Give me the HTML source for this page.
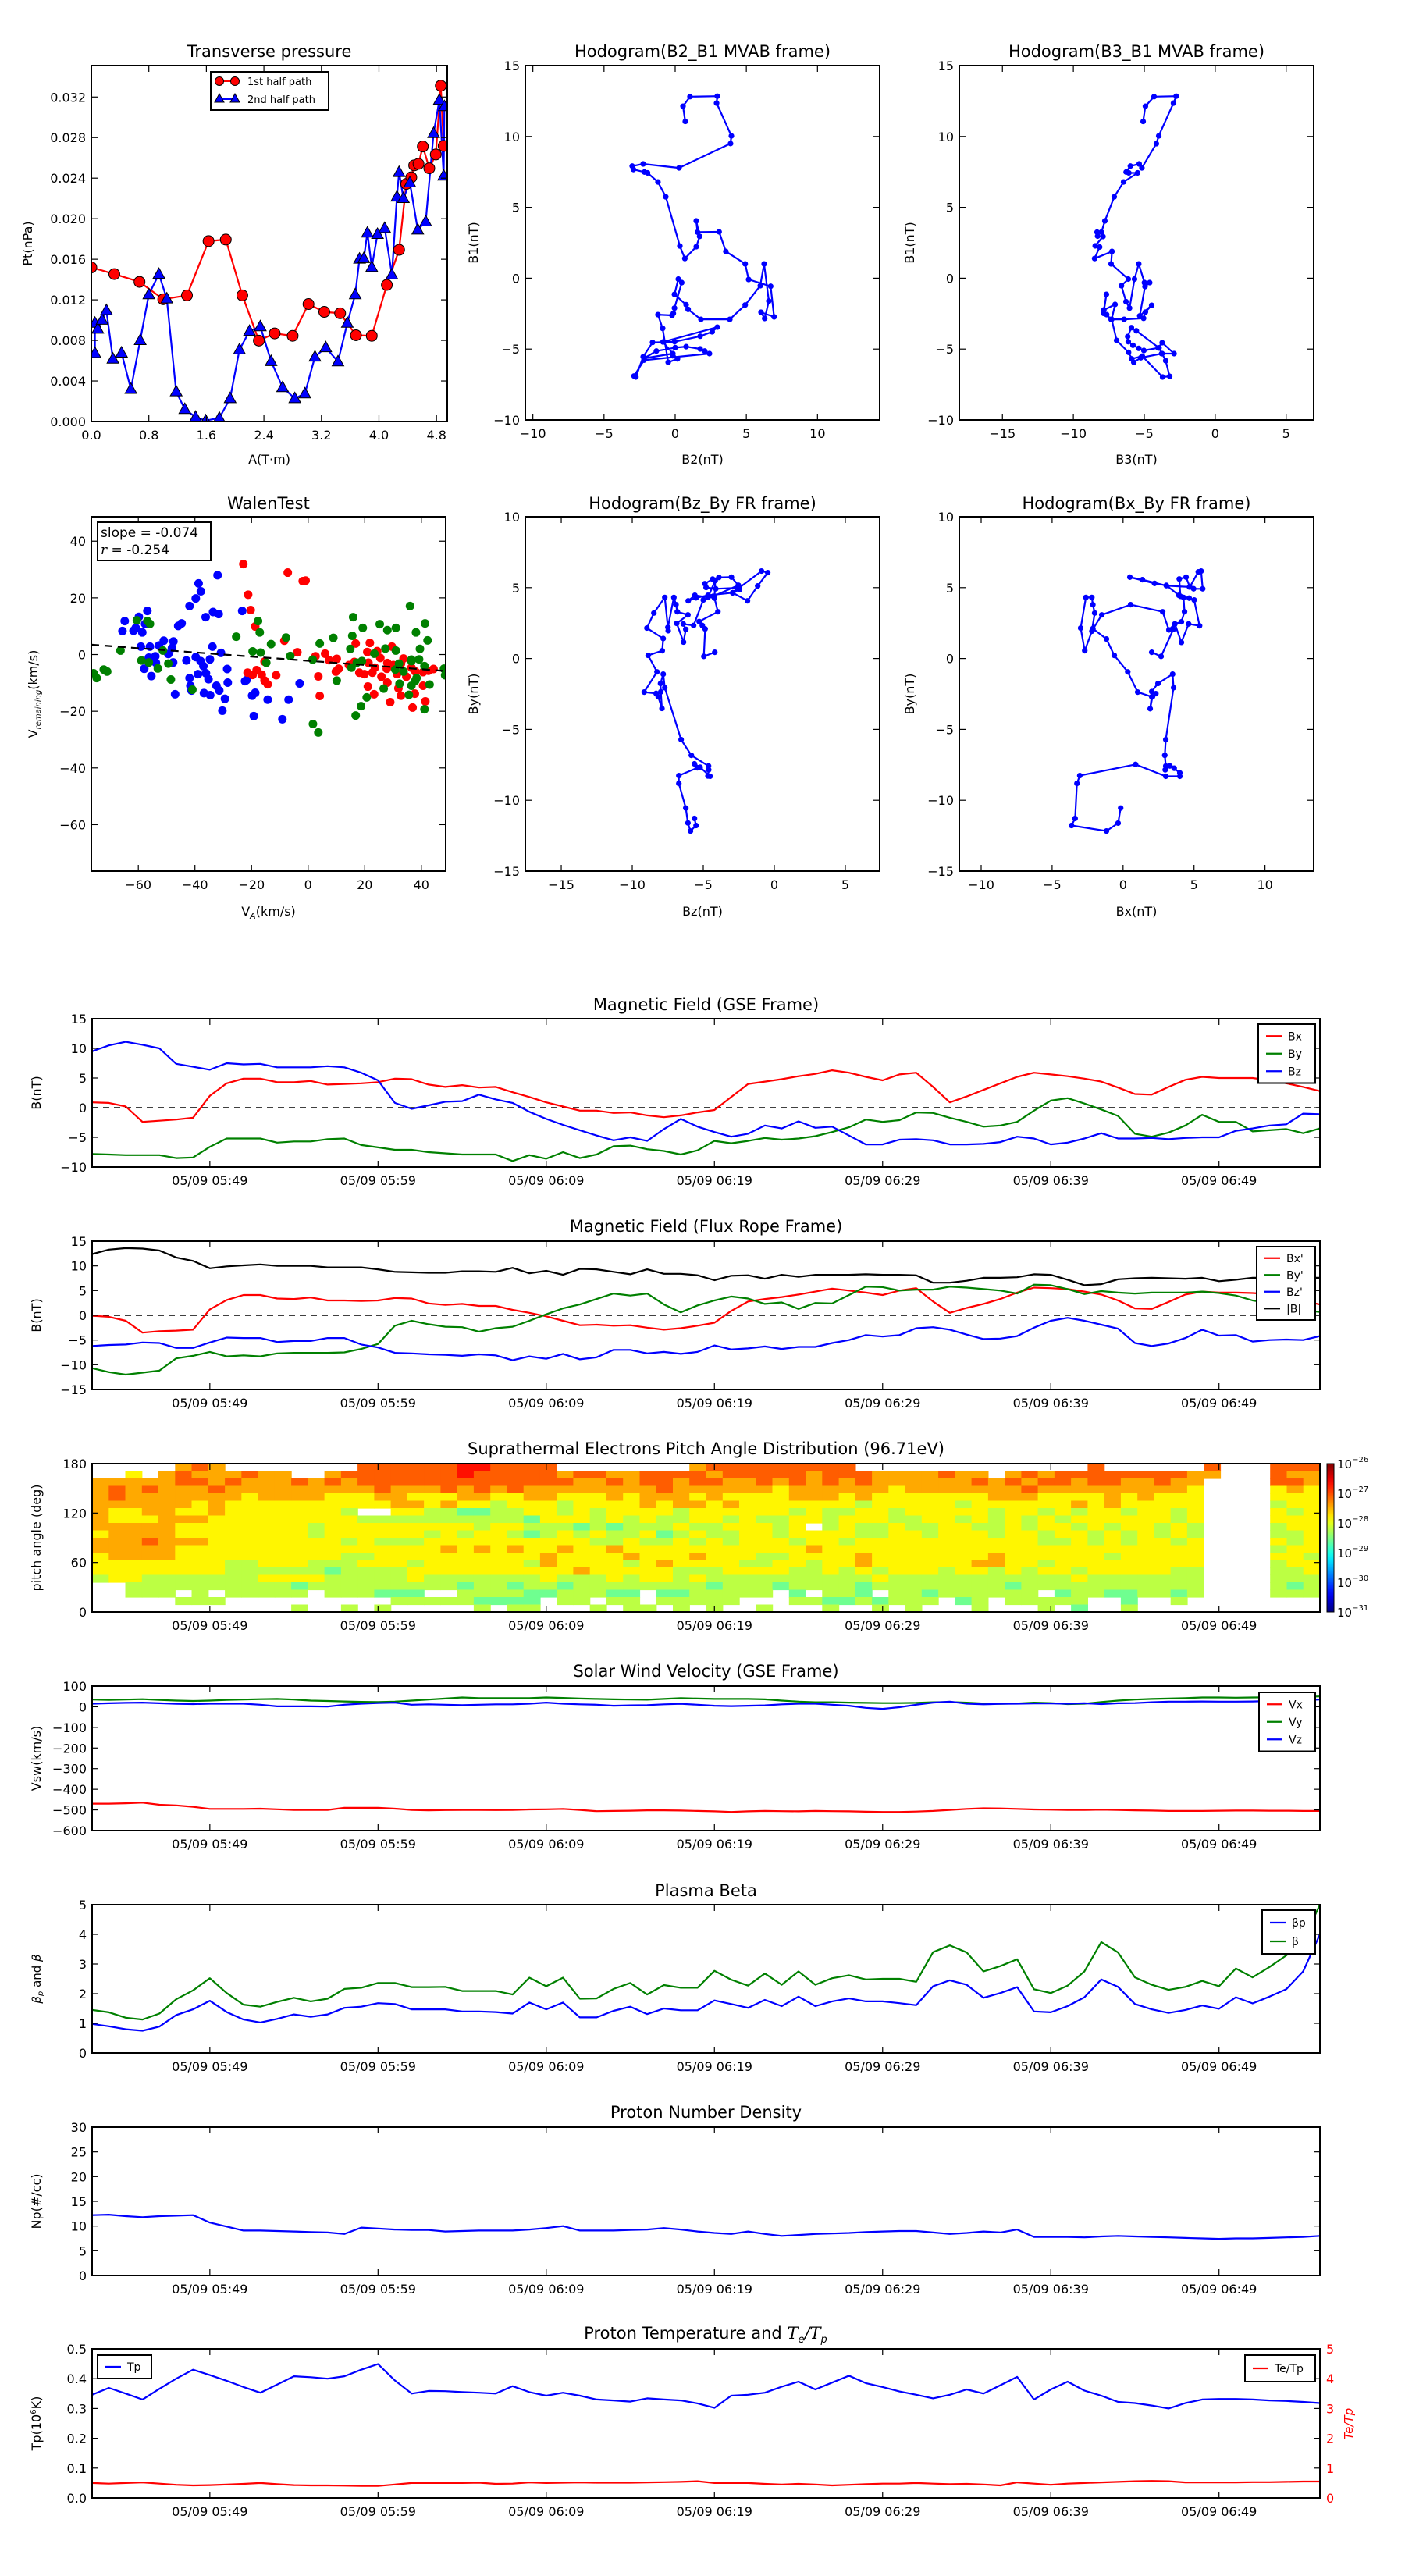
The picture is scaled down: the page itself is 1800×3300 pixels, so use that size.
<!DOCTYPE html>
<html><head><meta charset="utf-8"><title>Flux rope analysis</title>
<style>
html,body{margin:0;padding:0;background:#fff;}
svg{display:block;}
text{font-family:"DejaVu Sans","Liberation Sans",sans-serif;}
</style></head>
<body>
<svg id="fig" xmlns="http://www.w3.org/2000/svg" width="1800" height="3300" viewBox="0 0 1800 3300">
<rect x="0" y="0" width="1800" height="3300" fill="#fff"/>
</svg>
<script>
// ---------------- DATA ----------------
const timeTickPos = [7,17,27,37,47,57,67];
const timeTickLabels = ["05/09 05:49","05/09 05:59","05/09 06:09","05/09 06:19","05/09 06:29","05/09 06:39","05/09 06:49"];

// Transverse pressure
const ptA1 = [0,0.32,0.67,1.0,1.33,1.63,1.87,2.10,2.33,2.55,2.80,3.02,3.24,3.46,3.68,3.90,4.11,4.28,4.38,4.45,4.49,4.55,4.61,4.70,4.79,4.86,4.90];
const ptP1 = [0.0152,0.01454,0.01377,0.01206,0.01244,0.01779,0.01794,0.01244,0.00798,0.00869,0.00845,0.01158,0.01081,0.01067,0.00851,0.00845,0.01347,0.01693,0.02343,0.02408,0.02526,0.02541,0.02712,0.02497,0.02633,0.03312,0.02718];
const ptA2 = [0.05,0.05,0.09,0.15,0.21,0.30,0.42,0.55,0.68,0.80,0.94,1.05,1.18,1.30,1.45,1.59,1.78,1.93,2.06,2.20,2.35,2.50,2.66,2.83,2.97,3.11,3.26,3.43,3.56,3.67,3.73,3.79,3.84,3.90,3.98,4.08,4.18,4.25,4.28,4.34,4.43,4.54,4.65,4.76,4.84,4.90,4.91];
const ptP2 = [0.00674,0.00972,0.00913,0.01002,0.01096,0.00618,0.00677,0.00319,0.00801,0.01253,0.01454,0.01211,0.00295,0.00121,0.00044,0.00009,0.00035,0.00228,0.00709,0.00892,0.00937,0.00594,0.00337,0.00228,0.00275,0.00638,0.0073,0.00591,0.00972,0.01253,0.01604,0.0161,0.01861,0.01522,0.01847,0.01906,0.01448,0.02216,0.02458,0.02201,0.02355,0.01891,0.01971,0.02842,0.0317,0.02423,0.03108];

// MVAB hodograms
const mvB2 = [0.71,0.55,1.04,2.96,2.91,3.95,3.89,0.27,-2.25,-3.02,-2.93,-2.16,-1.94,-1.21,-0.66,0.33,0.68,1.48,1.72,1.48,1.57,3.09,3.56,4.92,5.16,6.71,6.95,6.03,6.29,6.58,6.25,5.98,4.92,3.84,1.81,0.91,0.77,-0.05,0.22,0.46,-0.05,-0.13,-0.22,-1.21,-0.88,-0.49,0.16,-0.86,2.96,2.60,1.76,-0.04,-1.59,-2.25,-2.76,-2.89,-2.19,2.41,2.08,1.76,0.77,0,-1.32,-2.18,-0.16,-0.18];
const mvB1 = [11.06,12.13,12.81,12.84,12.35,10.04,9.50,7.78,8.06,7.91,7.67,7.49,7.43,6.79,5.74,2.27,1.39,2.22,2.95,4.04,3.25,3.27,1.89,1.01,-0.09,-0.57,-2.73,-2.40,-2.84,-1.61,1.01,-0.53,-1.89,-2.90,-2.90,-2.20,-1.87,-1.14,-0.06,-0.31,-2.11,-2.48,-2.62,-2.57,-3.54,-5.93,-5.69,-4.50,-3.45,-3.78,-4.09,-4.48,-4.53,-5.54,-6.97,-6.90,-5.78,-5.32,-5.14,-4.99,-4.83,-4.90,-5.14,-5.65,-5.32,-5.47];
const mvB3x = [-5.08,-4.92,-4.31,-2.75,-2.94,-3.98,-4.15,-5.17,-5.36,-5.98,-6.28,-6.09,-5.47,-6.46,-7.12,-7.78,-8.02,-8.33,-8.29,-7.91,-8.46,-8.15,-8.50,-7.28,-7.34,-6.13,-6.61,-6.29,-6.04,-5.69,-5.39,-4.99,-4.62,-4.95,-5.32,-4.48,-4.92,-5.05,-6.42,-7.34,-7.65,-7.87,-7.67,-7.85,-7.06,-7.30,-6.95,-6.11,-5.74,-5.25,-3.78,-2.90,-3.74,-4.02,-5.03,-5.39,-5.80,-6.13,-6.17,-5.91,-5.56,-3.96,-3.74,-3.49,-3.21,-3.71,-5.14,-5.89];
const mvB1y = [11.06,12.13,12.81,12.84,12.35,10.04,9.49,7.78,8.06,7.91,7.49,7.43,7.43,6.79,5.74,4.04,3.25,3.25,2.97,2.94,2.28,2.2,1.39,1.89,1.01,-0.06,-0.53,-1.65,-2.11,-0.06,1.01,-0.31,-0.31,-0.59,-2.66,-1.91,-2.39,-2.83,-2.90,-2.90,-2.57,-2.48,-1.14,-2.24,-1.85,-2.90,-4.39,-5.23,-5.93,-5.61,-5.32,-5.32,-4.55,-4.92,-5.10,-4.95,-4.73,-4.48,-4.11,-3.49,-3.71,-4.92,-5.32,-5.82,-6.92,-6.97,-5.50,-5.69];

// FR hodograms
const frBz = [-4.19,-4.96,-4.87,-5.07,-5.29,-3.97,-4.21,-4.16,-4.67,-5.59,-6.06,-5.51,-4.67,-2.93,-2.53,-2.45,-2.93,-1.89,-1.17,-0.46,-0.90,-2.47,-4.12,-4.80,-4.89,-4.34,-3.90,-3.02,-2.53,-4.30,-5.00,-5.68,-6.41,-6.23,-6.39,-6.87,-6.08,-6.83,-6.92,-7.07,-7.49,-7.47,-7.71,-8.48,-8.97,-7.82,-7.89,-8.88,-8.26,-9.16,-8.32,-8.17,-7.91,-7.99,-8.01,-7.82,-7.71,-6.56,-5.84,-4.63,-4.62,-4.67,-4.52,-5.22,-5.62,-5.42,-6.72,-6.72,-6.23,-6.08,-5.90,-5.51,-5.62];
const frByZ = [0.44,0.15,2.09,2.33,2.61,3.30,4.26,5.50,4.31,4.46,4.07,4.28,4.46,4.64,5.05,4.86,4.64,4.07,5.12,6.06,6.17,4.99,4.92,5.01,5.28,5.60,5.72,5.74,5.17,4.39,4.13,2.33,2.44,2.06,1.16,2.48,3.08,3.30,3.80,4.31,2.20,1.96,4.31,3.21,2.15,1.41,0.55,0.22,-0.94,-2.37,-2.46,-2.70,-3.52,-2.35,-1.76,-1.10,-2.06,-5.72,-6.83,-7.58,-7.85,-8.29,-8.31,-7.67,-7.43,-7.71,-8.26,-8.81,-10.55,-11.60,-12.17,-11.78,-11.28];
const frBx = [2.02,2.68,3.54,3.65,4.11,4.33,4.26,4.04,3.96,4.44,4.70,5.30,5.50,5.61,4.97,4.68,3.05,1.36,0.48,2.22,3.05,3.93,4.66,5.01,5.39,4.62,4.11,3.65,3.23,2.79,0.53,-1.50,-2.13,-2.20,-2.00,-2.13,-2.20,-2.62,-2.99,-2.70,-2.13,-1.17,-0.62,0.33,1.03,2.02,1.91,2.07,2.31,2.02,2.46,3.49,3.56,3.01,2.94,3.01,2.97,3.30,3.60,4.00,4.00,3.01,0.88,-3.05,-3.25,-3.38,-3.63,-1.17,-0.35,-0.17];
const frByX = [0.44,0.15,2.06,2.44,2.59,3.30,4.31,4.39,5.61,5.74,5.05,6.11,6.17,4.92,4.92,5.05,5.14,5.56,5.74,5.30,5.16,4.46,4.26,4.13,2.31,2.44,1.14,2.44,2.02,3.30,3.80,3.08,2.06,1.93,3.21,3.80,4.31,4.31,2.15,0.55,2.11,1.38,0.22,-0.94,-2.37,-2.70,-3.54,-2.70,-2.48,-2.33,-1.76,-1.10,-2.06,-5.72,-6.83,-7.58,-7.85,-7.58,-7.74,-8.07,-8.31,-8.31,-7.47,-8.26,-8.81,-11.28,-11.78,-12.17,-11.61,-10.55];

// Walen test
const walenBlueX = [-32,-38.7,-37.9,-39.7,-41.9,-33.6,-31.6,-36.2,-23.3,-56.8,-59.8,-64.8,-65.6,-61.7,-60.9,-58.6,-57.6,-45.9,-44.7,-59.1,-55.9,-52.7,-51,-47.6,-48.1,-49.4,-56.3,-54,-53.8,-47.7,-57.9,-55.4,-43,-39.7,-38,-34.7,-33.8,-30.8,-37,-38.9,-36.1,-35.2,-41.9,-41.6,-41.2,-47,-36.8,-34.6,-32.4,-31.4,-28.6,-28.4,-29.4,-30.3,-21.8,-22.3,-19.8,-18.7,-14.3,-6.9,-3,-19.2,-9.1];
const walenBlueY = [28,25.1,22.3,19.8,17.1,15,14.3,13.2,15.4,15.4,13.3,11.8,8.3,8.4,9.4,7.8,10.8,10.1,11,2.8,2.8,3.2,4.9,4.6,2.3,0.2,-1.1,-0.6,-2.9,-2.8,-5,-7.6,-2.1,-0.9,-2.3,-1.7,2.8,0.6,-4.1,-6.9,-6.6,-8.7,-8.3,-11,-12.7,-14,-13.6,-14.3,-11,-12.7,-5.1,-9.9,-15.6,-19.8,-9,-9.4,-14.5,-13.5,-15.9,-15.9,-10.2,-21.7,-22.8];
const walenRedX = [-22.9,-7.2,-1.9,-0.9,-21.2,-20.3,-18.7,-8.4,-3.8,2.6,6,7.4,10.1,10.8,9.8,3.6,4.1,-15.4,-21.4,-19.6,-18.2,-16.4,-15.4,-14.3,-11.3,16.8,21.8,20.9,24.4,25.5,29.6,28,33.7,14.4,16.3,18.1,19.9,21.3,23.6,22.7,25.9,27.8,30.1,31.4,32.8,34.7,36.5,37.9,40.6,42.5,44.3,21.1,23.3,28,29,31.9,32.8,37.7,40.6,36.9,41.4];
const walenRedY = [31.9,28.9,25.9,26.1,21.1,15.7,9.9,4.9,0.8,-0.6,0.3,-2,-1.5,-5,-6,-7.7,-14.6,-2.5,-6.4,-7.2,-5.5,-7.1,-9.2,-10.5,-7.3,3.9,4.1,0.9,1.2,-1.2,2.8,-3,-1.4,-3.7,-2.6,-6.4,-6.9,-2.9,-4.6,-6.4,-7.8,-5,-3.7,-6.9,-3.2,-7.8,-4.6,-6,-6.2,-5.7,-5.1,-11.3,-14,-9.9,-16.8,-11.9,-14.5,-13.8,-11,-18.7,-16.5];
const walenGreenX = [-75.8,-74.7,-72.2,-71,-66.3,-60.5,-56.8,-55.9,-58.9,-56.3,-53.1,-48.5,-49.4,-51.3,-25.4,-17.7,-17.1,-13.1,-19.6,-16.8,-14.8,-7.8,-6.3,1.6,4.1,8.9,15.9,19.3,25.3,28,31,36,38.1,41.3,42.2,39.5,15.6,14.9,27.3,31,23.4,17.2,19,15.3,10.1,20.7,18.7,16.8,1.7,3.6,26.7,32.3,35.6,36.5,38.3,39.2,36.5,41.1,42.9,41.1,48,48.4,30.8,32.1,33.7,36.5,37.9,-40.9];
const walenGreenY = [-6.6,-8.3,-5.3,-6,1.4,12.1,11.8,10.8,-2.1,-2.8,-4.9,-8.8,-3.2,1.4,6.3,11.8,7.8,3.7,1.1,0.7,-2.9,6,-0.5,-1.8,3.9,5.9,13.2,9.4,10.7,8.6,9.4,17.1,7.8,11,5,2,6.6,2,2.1,1.4,0.3,-2.9,-2.3,-4.6,-9.2,-15.1,-18.2,-21.5,-24.5,-27.5,-12,-10.3,-14.2,-11,-8.3,-1.7,-1.8,-4.1,-10.6,-19.3,-5,-7.3,-5.3,-3.2,-6,-2.3,-9.2,-12.4];
const walenSlope = -0.074;
const walenIntercept = -2.2;

// GSE magnetic field
const gseBx = [0.9,0.8,0.2,-2.4,-2.2,-2,-1.7,2,4.1,4.9,4.9,4.3,4.3,4.5,3.9,4,4.1,4.3,4.9,4.8,3.9,3.5,3.8,3.4,3.5,2.6,1.8,0.9,0.2,-0.5,-0.5,-0.9,-0.8,-1.3,-1.6,-1.3,-0.8,-0.4,1.8,4,4.4,4.8,5.3,5.7,6.3,5.9,5.2,4.6,5.6,5.9,3.5,0.9,1.9,3,4.1,5.2,5.9,5.6,5.3,4.9,4.4,3.4,2.3,2.2,3.5,4.7,5.2,5,5,5,4.6,4.1,3.5,2.8];
const gseBy = [-7.8,-7.9,-8,-8,-8,-8.5,-8.4,-6.6,-5.2,-5.2,-5.2,-5.9,-5.7,-5.7,-5.3,-5.2,-6.3,-6.7,-7.1,-7.1,-7.5,-7.7,-7.9,-7.9,-7.9,-9,-8,-8.6,-7.5,-8.5,-7.9,-6.5,-6.4,-7,-7.3,-7.9,-7.2,-5.6,-6,-5.6,-5.1,-5.4,-5.2,-4.8,-4.1,-3.3,-2,-2.4,-2.1,-0.8,-0.9,-1.7,-2.4,-3.2,-3,-2.4,-0.5,1.2,1.6,0.7,-0.3,-1.4,-4.4,-4.9,-4.2,-3,-1.2,-2.4,-2.4,-4,-3.8,-3.6,-4.3,-3.5];
const gseBz = [9.5,10.5,11.1,10.6,10,7.4,6.9,6.4,7.5,7.3,7.4,6.8,6.8,6.8,7,6.8,5.9,4.6,0.8,-0.2,0.4,1,1.1,2.2,1.4,0.8,-0.7,-1.9,-2.9,-3.8,-4.7,-5.5,-5,-5.6,-3.6,-1.9,-3.2,-4.1,-4.9,-4.4,-3,-3.5,-2.3,-3.4,-3.2,-4.7,-6.2,-6.2,-5.4,-5.3,-5.5,-6.2,-6.2,-6.1,-5.8,-4.9,-5.2,-6.2,-5.9,-5.2,-4.3,-5.2,-5.2,-5.1,-5.3,-5.1,-5,-5,-3.9,-3.5,-3,-2.8,-1,-1.1];

// Flux rope frame field
const frameBx = [-0.1,-0.3,-1.1,-3.5,-3.2,-3.1,-2.9,1.2,3.1,4.1,4.1,3.4,3.3,3.6,3,3,2.9,3,3.5,3.4,2.4,2.1,2.3,1.9,1.9,1.1,0.5,-0.2,-1.1,-2,-1.9,-2.1,-2,-2.5,-2.9,-2.6,-2.1,-1.5,0.9,2.8,3.3,3.7,4.2,4.8,5.4,5,4.6,4.1,5,5.5,2.8,0.5,1.5,2.3,3.3,4.6,5.6,5.5,5.3,4.8,4.2,3,1.4,1.3,2.7,4.2,4.8,4.6,4.6,4.5,4.3,3.8,2.9,2.2];
const frameBy = [-10.7,-11.5,-12,-11.6,-11.2,-8.7,-8.2,-7.4,-8.3,-8.1,-8.3,-7.7,-7.6,-7.6,-7.6,-7.5,-6.8,-5.8,-2.1,-1.1,-1.8,-2.3,-2.4,-3.3,-2.6,-2.3,-1.1,0.2,1.4,2.2,3.3,4.4,4,4.4,2.2,0.6,2,3,3.8,3.4,2.3,2.6,1.3,2.5,2.4,4.1,5.8,5.7,5,5.2,5.2,5.8,5.6,5.3,5,4.4,6.2,6.1,5.3,4.3,4.9,4.6,4.4,4.6,4.6,4.6,4.8,4.5,4,3,2.5,1.3,1,0.7];
const frameBz = [-6.2,-6,-5.9,-5.5,-5.6,-6.6,-6.6,-5.5,-4.5,-4.6,-4.6,-5.4,-5.2,-5.2,-4.6,-4.6,-5.9,-6.5,-7.6,-7.7,-7.9,-8,-8.2,-7.9,-8.1,-9.1,-8.3,-8.8,-7.8,-8.9,-8.5,-7,-7,-7.7,-7.4,-7.8,-7.4,-6.1,-6.9,-6.7,-6.3,-6.8,-6.4,-6.4,-5.6,-5,-4,-4.3,-4,-2.6,-2.4,-2.9,-3.9,-4.8,-4.7,-4.2,-2.5,-1.1,-0.5,-1.1,-1.9,-2.7,-5.6,-6.2,-5.7,-4.6,-2.9,-4.1,-4,-5.3,-5,-4.9,-5,-4.2];
const frameBt = [12.4,13.3,13.6,13.5,13.1,11.7,11,9.5,9.9,10.1,10.3,10,10,10,9.7,9.7,9.7,9.3,8.8,8.7,8.6,8.6,8.9,8.9,8.8,9.6,8.5,9,8.2,9.4,9.3,8.8,8.3,9.3,8.4,8.4,8.1,7.1,8,8.1,7.4,8.2,7.8,8.2,8.2,8.2,8.3,8.2,8.2,8.1,6.6,6.6,7,7.6,7.6,7.7,8.3,8.2,7.2,6.1,6.3,7.3,7.5,7.6,7.5,7.4,7.6,6.9,7.2,7.6,7.6,7.6,7.6,7.6];

// PAD (digit codes per row, top row = 171-180 deg; '.' = no data)
const padRows = [
".....787.. ......8888 88998888.. ......7888 888888.... .......... 8......8.. .888",
"..6.787778 77..788888 8898888878 8778888788 8887888777 7877.78788 88888877.. .877",
"7777788787 7787878888 8888888887 7878878877 8787878777 7778787887 8877877... .887",
"7878777877 7777777877 7878787777 7777877777 7677777767 7777778777 7777776... .676",
"7877777776 7777666776 6677667766 6767776766 6677767666 6666777666 6767666... .666",
"7777776766 6666666677 6766566656 6667677676 6666665666 6656666667 6766666... .566",
"7667766766 666665..66 5544556656 5666656666 6656556656 6666566565 6656656... .656",
"7666777666 6666665555 5555554666 5656556656 5566566655 6656565656 6666656... .666",
"7777766666 6665666666 6665665554 5455565566 656.565565 5665565665 6566565... .566",
"6777766666 6665666666 5656654565 6556456556 6566665566 5666566566 5656565... .556",
"7778777666 6666656555 6666666666 5565565656 6656656666 6666666556 5656656... .656",
"7777766666 6666666666 6767676676 6766666666 6667666666 6666666666 6666666... .566",
"6777766666 6666655666 6666666766 6676667666 5566667666 6666766666 6566666... .665",
"6666666655 6665556665 6666665766 6656766665 5665667666 6667766566 6666666... .566",
"6666666655 5555455556 6666666667 6666655566 6655656566 6566565665 6666655... .556",
"5665555555 6666555556 5555555655 5656656555 5555555655 5555555556 5555555... .555",
"..55555555 5545555555 5545545545 5555555455 5455554555 5555545555 5555555... .545",
"..555.5.55 555.555444 ..55554455 544.445555 5.4.554.55 4555555.45 5445545... .555",
".....555.. ........55 5554444.55 .55.55555. ..55445455 5.45.55555 ..4..5.... ....",
".......... ..5..5.5.. ...5.55... 5.55.5.5.. 5...5..5.5 ...5...5.4 ..5....... ...."
];
const padLogBase = -30.08;
const padLogStep = 0.375;

// Solar wind velocity
const vswVx = [-470,-470,-468,-465,-475,-478,-485,-495,-495,-495,-494,-497,-500,-500,-500,-490,-490,-490,-494,-500,-502,-501,-500,-500,-501,-500,-498,-497,-495,-500,-506,-505,-504,-502,-502,-503,-505,-507,-510,-507,-505,-506,-507,-505,-506,-507,-509,-510,-510,-508,-505,-500,-495,-492,-493,-495,-498,-499,-500,-500,-499,-500,-502,-503,-505,-505,-505,-504,-503,-503,-504,-504,-505,-505];
const vswVy = [35,33,35,37,33,30,28,30,33,35,37,38,35,30,28,26,24,23,25,30,35,40,45,42,42,42,42,45,43,40,38,36,35,34,38,42,40,38,38,38,36,30,25,22,22,20,19,18,18,19,22,23,20,16,14,16,20,18,13,15,23,30,35,38,40,42,45,45,44,45,46,48,48,50];
const vswVz = [15,17,19,20,17,14,13,15,15,15,10,2,2,2,1,10,15,18,20,10,12,10,8,10,12,12,15,20,15,12,10,5,7,8,12,14,10,5,3,5,7,12,15,15,10,5,-5,-10,-2,10,20,25,15,12,14,15,16,16,15,17,13,17,18,22,25,25,26,25,25,26,28,30,32,35];

// Plasma beta
const betaP = [0.98,0.9,0.8,0.75,0.89,1.28,1.47,1.76,1.38,1.13,1.03,1.15,1.3,1.22,1.3,1.52,1.56,1.68,1.65,1.47,1.47,1.47,1.4,1.4,1.38,1.33,1.7,1.47,1.7,1.2,1.2,1.42,1.56,1.31,1.5,1.44,1.44,1.77,1.65,1.52,1.79,1.58,1.9,1.58,1.74,1.84,1.74,1.74,1.68,1.61,2.25,2.45,2.3,1.86,2.02,2.22,1.4,1.37,1.58,1.88,2.48,2.23,1.65,1.47,1.35,1.45,1.6,1.49,1.88,1.67,1.9,2.15,2.75,4];
const betaT = [1.45,1.37,1.19,1.13,1.33,1.81,2.11,2.52,2.02,1.63,1.56,1.72,1.86,1.74,1.83,2.16,2.2,2.36,2.36,2.22,2.22,2.23,2.09,2.09,2.09,1.97,2.54,2.25,2.54,1.83,1.84,2.16,2.36,1.97,2.29,2.2,2.2,2.77,2.47,2.27,2.68,2.3,2.75,2.3,2.52,2.62,2.48,2.5,2.5,2.4,3.4,3.63,3.39,2.75,2.93,3.16,2.15,2.02,2.27,2.75,3.74,3.39,2.55,2.3,2.13,2.23,2.43,2.25,2.85,2.55,2.9,3.29,3.8,5];

// Proton density
const npVals = [12.2,12.3,12,11.8,12,12.1,12.2,10.7,9.9,9.1,9.1,9,8.9,8.8,8.7,8.4,9.7,9.5,9.3,9.2,9.2,8.9,9,9.1,9.1,9.1,9.3,9.6,10,9.1,9.1,9.1,9.2,9.3,9.6,9.3,8.9,8.6,8.4,8.9,8.4,8,8.2,8.4,8.5,8.6,8.8,8.9,9,9,8.7,8.4,8.6,8.9,8.7,9.3,7.8,7.8,7.8,7.7,7.9,8,7.9,7.8,7.7,7.6,7.5,7.4,7.5,7.5,7.6,7.7,7.8,8];

// Temperature
const tpVals = [0.346,0.369,0.35,0.33,0.366,0.4,0.43,0.412,0.393,0.372,0.353,0.38,0.408,0.405,0.4,0.408,0.43,0.449,0.394,0.35,0.359,0.358,0.355,0.353,0.35,0.375,0.355,0.343,0.353,0.343,0.33,0.327,0.323,0.334,0.33,0.327,0.317,0.302,0.343,0.346,0.353,0.373,0.39,0.364,0.387,0.41,0.385,0.372,0.357,0.346,0.334,0.346,0.364,0.35,0.378,0.406,0.33,0.364,0.39,0.36,0.343,0.322,0.318,0.31,0.3,0.318,0.33,0.332,0.332,0.33,0.327,0.325,0.322,0.318];
const teTpVals = [0.5,0.48,0.5,0.52,0.48,0.44,0.42,0.43,0.45,0.47,0.5,0.46,0.43,0.42,0.42,0.41,0.4,0.4,0.45,0.5,0.5,0.5,0.5,0.51,0.47,0.48,0.52,0.5,0.51,0.52,0.51,0.51,0.51,0.52,0.53,0.54,0.56,0.5,0.5,0.5,0.47,0.45,0.47,0.45,0.42,0.44,0.46,0.48,0.48,0.5,0.48,0.46,0.47,0.45,0.42,0.52,0.48,0.44,0.48,0.5,0.52,0.54,0.56,0.57,0.56,0.52,0.52,0.52,0.52,0.53,0.53,0.54,0.55,0.55];

// ---------------- DRAWING ----------------
const NS = 'http://www.w3.org/2000/svg';
const svg = document.getElementById('fig');
function mk(tag, attrs, parent, name, inter) {
  const el = document.createElementNS(NS, tag);
  for (const k in attrs) el.setAttribute(k, attrs[k]);
  
  
  parent.appendChild(el);
  return el;
}
function txt(parent, name, x, y, s, size, anchor, extra) {
  const a = {x: x, y: y, 'font-size': size, 'text-anchor': anchor || 'middle', fill: '#000'};
  if (extra) for (const k in extra) a[k] = extra[k];
  const el = mk('text', a, parent, name, false);
  el.textContent = s;
  return el;
}
const minus = s => String(s).replace('-', '\u2212');
let clipN = 0;
function makeAxes(name, X0, X1, Y0, Y1, xr, yr) {
  const g = mk('g', {}, svg, name, false);
  const id = 'clip' + (clipN++);
  const cp = mk('clipPath', {id: id}, g, name + '-clip', false);
  mk('rect', {x: X0, y: Y0, width: X1 - X0, height: Y1 - Y0}, cp, name + '-clip-rect', false);
  const plot = mk('g', {'clip-path': 'url(#' + id + ')'}, g, name + '-plot-area', false);
  const sx = v => X0 + (v - xr[0]) / (xr[1] - xr[0]) * (X1 - X0);
  const sy = v => Y1 - (v - yr[0]) / (yr[1] - yr[0]) * (Y1 - Y0);
  return {g, plot, sx, sy, X0, X1, Y0, Y1, name};
}
function frame(ax) {
  mk('rect', {x: ax.X0, y: ax.Y0, width: ax.X1 - ax.X0, height: ax.Y1 - ax.Y0, fill: 'none', stroke: '#000', 'stroke-width': 2}, ax.g, ax.name + '-frame', false);
}
function xticks(ax, vals, labels, dy) {
  vals.forEach((v, i) => {
    const x = ax.sx(v);
    mk('line', {x1: x, x2: x, y1: ax.Y1, y2: ax.Y1 - 8, stroke: '#000', 'stroke-width': 1.2}, ax.g, 'x-tick', false);
    mk('line', {x1: x, x2: x, y1: ax.Y0, y2: ax.Y0 + 8, stroke: '#000', 'stroke-width': 1.2}, ax.g, 'x-tick-top', false);
    txt(ax.g, 'x-tick-label', x, ax.Y1 + (dy || 23), labels[i], 16);
  });
}
function yticks(ax, vals, labels, color, right, sy) {
  const f = sy || ax.sy;
  vals.forEach((v, i) => {
    const y = f(v);
    if (!right) {
      mk('line', {x1: ax.X0, x2: ax.X0 + 8, y1: y, y2: y, stroke: '#000', 'stroke-width': 1.2}, ax.g, 'y-tick', false);
      if (!sy) mk('line', {x1: ax.X1, x2: ax.X1 - 8, y1: y, y2: y, stroke: '#000', 'stroke-width': 1.2}, ax.g, 'y-tick-right', false);
      txt(ax.g, 'y-tick-label', ax.X0 - 7, y + 6, labels[i], 16, 'end', {fill: color || '#000'});
    } else {
      mk('line', {x1: ax.X1, x2: ax.X1 - 8, y1: y, y2: y, stroke: '#000', 'stroke-width': 1.2}, ax.g, 'y2-tick', false);
      txt(ax.g, 'y2-tick-label', ax.X1 + 8, y + 6, labels[i], 16, 'start', {fill: color || '#000'});
    }
  });
}
function line(ax, xs, ys, color, name, sy, dash) {
  const f = sy || ax.sy;
  const d = xs.map((x, i) => (i ? 'L' : 'M') + ax.sx(x).toFixed(1) + ',' + f(ys[i]).toFixed(1)).join('');
  const a = {d: d, fill: 'none', stroke: color, 'stroke-width': 2.2, 'stroke-linejoin': 'round'};
  if (dash) a['stroke-dasharray'] = dash;
  return mk('path', a, ax.plot, name, false);
}
function dots(ax, xs, ys, color, r, name) {
  const g = mk('g', {}, ax.plot, name, false);
  xs.forEach((x, i) => {
    mk('circle', {cx: ax.sx(x), cy: ax.sy(ys[i]), r: r, fill: color}, g, name + '-point', false);
  });
  return g;
}
function ylabel(ax, x, s, color) {
  const cy = (ax.Y0 + ax.Y1) / 2;
  return txt(ax.g, 'y-axis-title', x, cy, s, 16, 'middle', {transform: 'rotate(-90 ' + x + ' ' + cy + ')', fill: color || '#000'});
}
function title(ax, s, y) { return txt(ax.g, 'chart-title', (ax.X0 + ax.X1) / 2, y, s, 21); }
function legend(ax, x, y, w, entries, rowH, name) {
  const g = mk('g', {}, ax.g, name, false);
  mk('rect', {x: x, y: y, width: w, height: entries.length * rowH + 8, fill: '#fff', stroke: '#000', 'stroke-width': 2}, g, name + '-box', false);
  entries.forEach((e, i) => {
    const cy = y + 4 + rowH * (i + 0.5);
    mk('line', {x1: x + 10, x2: x + 30, y1: cy, y2: cy, stroke: e[1], 'stroke-width': 2.2}, g, 'legend-swatch', false);
    txt(g, 'legend-entry', x + 38, cy + 5, e[0], 14, 'start');
  });
  return g;
}
const range = (a, b, s) => { const r = []; for (let v = a; v <= b + 1e-9; v += s) r.push(+v.toFixed(6)); return r; };
const tIdx = gseBx.map((_, i) => i);

// ---- Transverse pressure ----
{
  const ax = makeAxes('transverse-pressure-chart', 117, 573, 84, 540, [0, 4.95], [0, 0.0351]);
  line(ax, ptA1, ptP1, '#ff0000', 'first-half-line');
  line(ax, ptA2, ptP2, '#0000ff', 'second-half-line');
  const g1 = mk('g', {}, ax.plot, 'first-half-markers', false);
  ptA1.forEach((a, i) => { mk('circle', {cx: ax.sx(a), cy: ax.sy(ptP1[i]), r: 7, fill: '#ff0000', stroke: '#000', 'stroke-width': 1}, g1, 'first-half-marker', false); });
  const g2 = mk('g', {}, ax.plot, 'second-half-markers', false);
  ptA2.forEach((a, i) => {
    const x = ax.sx(a), y = ax.sy(ptP2[i]);
    mk('polygon', {points: (x) + ',' + (y - 8) + ' ' + (x - 7.5) + ',' + (y + 5.5) + ' ' + (x + 7.5) + ',' + (y + 5.5), fill: '#0000ff', stroke: '#000', 'stroke-width': 1}, g2, 'second-half-marker', false);
  });
  frame(ax);
  const xt = range(0, 4.8, 0.8);
  xticks(ax, xt, xt.map(v => v.toFixed(1)));
  const yt = range(0, 0.032, 0.004);
  yticks(ax, yt, yt.map(v => v.toFixed(3)));
  title(ax, 'Transverse pressure', 73);
  ylabel(ax, 41, 'Pt(nPa)');
  txt(ax.g, 'x-axis-title', 345, 594, 'A(T\u00b7m)', 16);
  const lg = mk('g', {}, ax.g, 'pressure-legend', false);
  mk('rect', {x: 270, y: 92, width: 151, height: 49, fill: '#fff', stroke: '#000', 'stroke-width': 2}, lg, 'pressure-legend-box', false);
  mk('line', {x1: 281, x2: 301, y1: 104, y2: 104, stroke: '#ff0000', 'stroke-width': 2}, lg, 'legend-swatch', false);
  mk('circle', {cx: 281, cy: 104, r: 5.5, fill: '#ff0000', stroke: '#000'}, lg, 'legend-marker', false);
  mk('circle', {cx: 301, cy: 104, r: 5.5, fill: '#ff0000', stroke: '#000'}, lg, 'legend-marker', false);
  txt(lg, 'legend-entry', 317, 109, '1st half path', 13, 'start');
  mk('line', {x1: 281, x2: 301, y1: 127, y2: 127, stroke: '#0000ff', 'stroke-width': 2}, lg, 'legend-swatch', false);
  mk('polygon', {points: '281,120 275,131 287,131', fill: '#0000ff', stroke: '#000'}, lg, 'legend-marker', false);
  mk('polygon', {points: '301,120 295,131 307,131', fill: '#0000ff', stroke: '#000'}, lg, 'legend-marker', false);
  txt(lg, 'legend-entry', 317, 132, '2nd half path', 13, 'start');
}

function hodogram(name, X0, X1, Y0, Y1, xr, yr, xs, ys, xt, yt, ttl, xl, yl, ylx, titleY, xlY) {
  const ax = makeAxes(name, X0, X1, Y0, Y1, xr, yr);
  line(ax, xs, ys, '#0000ff', name + '-path');
  dots(ax, xs, ys, '#0000ff', 3.6, name + '-points');
  frame(ax);
  xticks(ax, xt, xt.map(minus));
  yticks(ax, yt, yt.map(minus));
  title(ax, ttl, titleY);
  txt(ax.g, 'x-axis-title', (X0 + X1) / 2, xlY, xl, 16);
  ylabel(ax, ylx, yl);
  return ax;
}
hodogram('hodogram-b2-b1', 673, 1127, 84, 538, [-10.53, 14.37], [-10, 15], mvB2, mvB1, [-10, -5, 0, 5, 10], [-10, -5, 0, 5, 10, 15], 'Hodogram(B2_B1 MVAB frame)', 'B2(nT)', 'B1(nT)', 612, 73, 594);
hodogram('hodogram-b3-b1', 1229, 1683, 84, 538, [-18.04, 6.94], [-10, 15], mvB3x, mvB1y, [-15, -10, -5, 0, 5], [-10, -5, 0, 5, 10, 15], 'Hodogram(B3_B1 MVAB frame)', 'B3(nT)', 'B1(nT)', 1171, 73, 594);
hodogram('hodogram-bz-by', 673, 1127, 662, 1116, [-17.53, 7.42], [-15, 10], frBz, frByZ, [-15, -10, -5, 0, 5], [-15, -10, -5, 0, 5, 10], 'Hodogram(Bz_By FR frame)', 'Bz(nT)', 'By(nT)', 612, 652, 1173);
hodogram('hodogram-bx-by', 1229, 1683, 662, 1116, [-11.54, 13.43], [-15, 10], frBx, frByX, [-10, -5, 0, 5, 10], [-15, -10, -5, 0, 5, 10], 'Hodogram(Bx_By FR frame)', 'Bx(nT)', 'By(nT)', 1171, 652, 1173);

// ---- Walen test ----
{
  const ax = makeAxes('walen-test-chart', 117, 571, 662, 1116, [-76.6, 48.6], [-76.4, 48.6]);
  dots(ax, walenBlueX, walenBlueY, '#0000ff', 5.5, 'walen-blue-points');
  dots(ax, walenRedX, walenRedY, '#ff0000', 5.5, 'walen-red-points');
  dots(ax, walenGreenX, walenGreenY, '#008000', 5.5, 'walen-green-points');
  const fx = [-76.6, 48.6];
  line(ax, fx, fx.map(v => walenSlope * v + walenIntercept), '#000', 'walen-fit-line', null, '10,7');
  frame(ax);
  const t = [-60, -40, -20, 0, 20, 40];
  xticks(ax, t, t.map(minus));
  yticks(ax, t, t.map(minus));
  title(ax, 'WalenTest', 652);
  const xl = txt(ax.g, 'x-axis-title', 344, 1173, 'V', 16);
  const sub1 = mk('tspan', {'font-size': 11, 'font-style': 'italic', dy: 4}, xl, 'x-axis-title-sub', false);
  sub1.textContent = 'A';
  const sub1b = mk('tspan', {dy: -4}, xl, 'x-axis-title-rest', false);
  sub1b.textContent = '(km/s)';
  const yl = ylabel(ax, 48, 'V');
  const sub2 = mk('tspan', {'font-size': 10, 'font-style': 'italic', dy: 4}, yl, 'y-axis-title-sub', false);
  sub2.textContent = 'remaining';
  const sub2b = mk('tspan', {dy: -4}, yl, 'y-axis-title-rest', false);
  sub2b.textContent = '(km/s)';
  mk('rect', {x: 125, y: 669, width: 145, height: 49, fill: '#fff', stroke: '#000', 'stroke-width': 2}, ax.g, 'walen-stats-box', false);
  txt(ax.g, 'walen-slope-text', 129, 688, 'slope = -0.074', 17, 'start');
  const rt = txt(ax.g, 'walen-r-text', 129, 710, '', 17, 'start');
  const ri = mk('tspan', {'font-style': 'italic', 'font-family': '"DejaVu Serif",serif'}, rt, 'walen-r-symbol', false);
  ri.textContent = 'r';
  const rv = mk('tspan', {}, rt, 'walen-r-value', false);
  rv.textContent = ' = -0.254';
}

// ---- time-series panels ----
function timeAxes(name, Y0, Y1, yr) {
  return makeAxes(name, 118, 1691, Y0, Y1, [0, 73], yr);
}
function finishTime(ax, ttl, titleY, yt, ytl, ylab) {
  frame(ax);
  xticks(ax, timeTickPos, timeTickLabels, 23);
  yticks(ax, yt, ytl);
  if (ttl) title(ax, ttl, titleY);
  if (ylab) ylabel(ax, 52, ylab);
}
// GSE
{
  const ax = timeAxes('magnetic-field-gse-chart', 1305, 1495, [-10, 15]);
  line(ax, [0, 73], [0, 0], '#000', 'gse-zero-line', null, '8,6').setAttribute('stroke-width', 1.5);
  line(ax, tIdx, gseBx, '#ff0000', 'gse-bx-line');
  line(ax, tIdx, gseBy, '#008000', 'gse-by-line');
  line(ax, tIdx, gseBz, '#0000ff', 'gse-bz-line');
  const yt = range(-10, 15, 5);
  finishTime(ax, 'Magnetic Field (GSE Frame)', 1294, yt, yt.map(minus), 'B(nT)');
  legend(ax, 1612, 1312, 73, [['Bx', '#ff0000'], ['By', '#008000'], ['Bz', '#0000ff']], 22.5, 'gse-legend');
}
// FR
{
  const ax = timeAxes('magnetic-field-fr-chart', 1590, 1780, [-15, 15]);
  line(ax, [0, 73], [0, 0], '#000', 'fr-zero-line', null, '8,6').setAttribute('stroke-width', 1.5);
  line(ax, tIdx, frameBx, '#ff0000', 'fr-bx-line');
  line(ax, tIdx, frameBy, '#008000', 'fr-by-line');
  line(ax, tIdx, frameBz, '#0000ff', 'fr-bz-line');
  line(ax, tIdx, frameBt, '#000000', 'fr-btotal-line');
  const yt = range(-15, 15, 5);
  finishTime(ax, 'Magnetic Field (Flux Rope Frame)', 1578, yt, yt.map(minus), 'B(nT)');
  legend(ax, 1610, 1597, 75, [["Bx'", '#ff0000'], ["By'", '#008000'], ["Bz'", '#0000ff'], ['|B|', '#000']], 21.5, 'fr-legend');
}
// PAD
function jet(v) {
  const c = x => Math.max(0, Math.min(1, x));
  const r = c(1.5 - Math.abs(4 * v - 3)), g = c(1.5 - Math.abs(4 * v - 2)), b = c(1.5 - Math.abs(4 * v - 1));
  return 'rgb(' + Math.round(r * 255) + ',' + Math.round(g * 255) + ',' + Math.round(b * 255) + ')';
}
{
  const ax = timeAxes('pitch-angle-chart', 1875, 2065, [0, 180]);
  const nRows = padRows.length;
  const cells = mk('g', {}, ax.plot, 'pad-heatmap', false);
  padRows.forEach((rowStr, r) => {
    const row = rowStr.replace(/ /g, '');
    const nCols = 74;
    for (let i = 0; i < row.length; i++) {
      const ch = row[i];
      if (ch === '.') continue;
      const logv = padLogBase + (+ch) * padLogStep;
      const v = (logv + 31) / 5;
      const xa = ax.sx(i * 73 / nCols), xb = ax.sx((i + 1) * 73 / nCols);
      const ya = ax.sy(180 - r * 180 / nRows), yb = ax.sy(180 - (r + 1) * 180 / nRows);
      mk('rect', {x: xa.toFixed(1), y: ya.toFixed(1), width: (xb - xa + 0.6).toFixed(1), height: (yb - ya + 0.6).toFixed(1), fill: jet(v)}, cells, 'pad-cell', false);
    }
  });
  const yt = [0, 60, 120, 180];
  finishTime(ax, 'Suprathermal Electrons Pitch Angle Distribution (96.71eV)', 1863, yt, yt.map(String), 'pitch angle (deg)');
  const cb = mk('g', {}, svg, 'colorbar', false);
  const defs = mk('defs', {}, cb, 'colorbar-defs', false);
  const lg = mk('linearGradient', {id: 'jetgrad', x1: 0, y1: 1, x2: 0, y2: 0}, defs, 'colorbar-gradient', false);
  for (let k = 0; k <= 20; k++) {
    mk('stop', {offset: (k / 20), 'stop-color': jet(k / 20)}, lg, 'gradient-stop', false);
  }
  mk('rect', {x: 1700, y: 1875, width: 9, height: 190, fill: 'url(#jetgrad)', stroke: '#000', 'stroke-width': 1}, cb, 'colorbar-scale', false);
  const cbExp = ['\u221226', '\u221227', '\u221228', '\u221229', '\u221230', '\u221231'];
  cbExp.forEach((e, i) => {
    const y = 1875 + i * 38;
    const t = txt(cb, 'colorbar-tick-label', 1713, y + 6, '10', 15, 'start');
    const s = mk('tspan', {'font-size': 10, dy: -8}, t, 'colorbar-tick-exponent', false);
    s.textContent = e;
  });
}
// Vsw
{
  const ax = timeAxes('solar-wind-velocity-chart', 2160, 2345, [-600, 100]);
  line(ax, tIdx, vswVx, '#ff0000', 'vx-line');
  line(ax, tIdx, vswVy, '#008000', 'vy-line');
  line(ax, tIdx, vswVz, '#0000ff', 'vz-line');
  const yt = range(-600, 100, 100);
  finishTime(ax, 'Solar Wind Velocity (GSE Frame)', 2148, yt, yt.map(minus), 'Vsw(km/s)');
  legend(ax, 1613, 2168, 72, [['Vx', '#ff0000'], ['Vy', '#008000'], ['Vz', '#0000ff']], 22.5, 'vsw-legend');
}
// Beta
{
  const ax = timeAxes('plasma-beta-chart', 2440, 2630, [0, 5]);
  line(ax, tIdx, betaP, '#0000ff', 'beta-p-line');
  line(ax, tIdx, betaT, '#008000', 'beta-line');
  const yt = range(0, 5, 1);
  finishTime(ax, 'Plasma Beta', 2429, yt, yt.map(String), null);
  const cy = 2535;
  const yl = txt(ax.g, 'y-axis-title', 52, cy, '\u03b2', 15, 'middle', {transform: 'rotate(-90 52 ' + cy + ')', 'font-style': 'italic'});
  const s1 = mk('tspan', {'font-size': 10, dy: 3}, yl, 'y-axis-title-sub', false);
  s1.textContent = 'p';
  const s2 = mk('tspan', {dy: -3, 'font-style': 'normal'}, yl, 'y-axis-title-rest', false);
  s2.textContent = ' and ';
  const s3 = mk('tspan', {}, yl, 'y-axis-title-beta', false);
  s3.textContent = '\u03b2';
  legend(ax, 1617, 2447, 68, [['\u03b2p', '#0000ff'], ['\u03b2', '#008000']], 24, 'beta-legend');
}
// Np
{
  const ax = timeAxes('proton-density-chart', 2725, 2915, [0, 30]);
  line(ax, tIdx, npVals, '#0000ff', 'np-line');
  const yt = range(0, 30, 5);
  finishTime(ax, 'Proton Number Density', 2713, yt, yt.map(String), 'Np(#/cc)');
}
// Temperature
{
  const ax = timeAxes('proton-temperature-chart', 3009, 3200, [0, 0.5]);
  const sy2 = v => ax.Y1 - v / 5 * (ax.Y1 - ax.Y0);
  line(ax, tIdx, tpVals, '#0000ff', 'tp-line');
  line(ax, tIdx, teTpVals, '#ff0000', 'te-tp-line', sy2);
  frame(ax);
  xticks(ax, timeTickPos, timeTickLabels, 23);
  const yt = range(0, 0.5, 0.1);
  yticks(ax, yt, yt.map(v => v.toFixed(1)), '#000', false, ax.sy);
  const y2 = range(0, 5, 1);
  yticks(ax, y2, y2.map(String), '#ff0000', true, sy2);
  const tt = txt(ax.g, 'chart-title', 904, 2996, 'Proton Temperature and ', 21);
  const ti = mk('tspan', {'font-style': 'italic', 'font-family': '"DejaVu Serif",serif'}, tt, 'chart-title-math', false);
  ti.textContent = 'T';
  const ts = mk('tspan', {'font-size': 13, dy: 5, 'font-style': 'italic'}, tt, 'chart-title-sub', false);
  ts.textContent = 'e';
  const ti2 = mk('tspan', {dy: -5, 'font-style': 'italic', 'font-family': '"DejaVu Serif",serif'}, tt, 'chart-title-math2', false);
  ti2.textContent = '/T';
  const ts2 = mk('tspan', {'font-size': 13, dy: 5, 'font-style': 'italic'}, tt, 'chart-title-sub2', false);
  ts2.textContent = 'p';
  const yl = ylabel(ax, 52, 'Tp(10');
  const ye = mk('tspan', {'font-size': 10, dy: -6}, yl, 'y-axis-title-exp', false);
  ye.textContent = '6';
  const yr = mk('tspan', {dy: 6}, yl, 'y-axis-title-rest', false);
  yr.textContent = 'K)';
  txt(ax.g, 'y2-axis-title', 1733, 3105, 'Te/Tp', 15, 'middle', {transform: 'rotate(-90 1733 3105)', fill: '#ff0000', 'font-style': 'italic', 'font-family': '"DejaVu Serif",serif'});
  legend(ax, 125, 3017, 69, [['Tp', '#0000ff']], 22, 'tp-legend');
  legend(ax, 1595, 3017, 90, [['Te/Tp', '#ff0000']], 26, 'te-tp-legend');
}
</script>
</body></html>
